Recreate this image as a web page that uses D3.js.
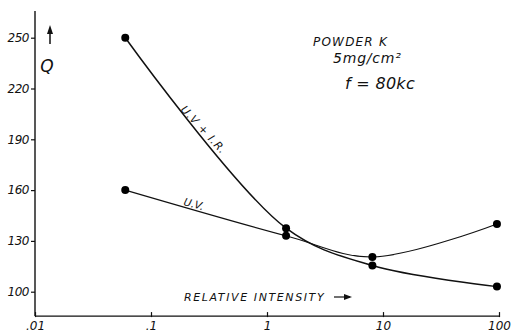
<!DOCTYPE html>
<html><head><meta charset="utf-8">
<script src="https://cdn.jsdelivr.net/npm/d3@7"></script>
<style>body{margin:0;background:#fff}svg{display:block}</style>
</head><body><svg id="c" width="513" height="332"></svg>
<script>
// Data
const xTicks = [0.01, 0.1, 1, 10, 100];
const xTickLabels = [".01", ".1", "1", "10", "100"];
const yTicks = [100, 130, 160, 190, 220, 250];
const intensity = [0.06, 1.46, 8.1, 96];
const uvIr = [250, 137.5, 115.5, 103];
const uv = [160, 133, 120.5, 140];
const notes = ["POWDER K", "5mg/cm²", "f = 80kc"];

const svg = d3.select("#c");
const x = d3.scaleLog().domain([0.01, 100]).range([35, 499]);
const y = d3.scaleLinear().domain([100, 250]).range([291.7, 37.7]);
const yBottom = y(85.6), yTop = y(265.8);
const font = "'DejaVu Sans', sans-serif";

// axes lines
svg.append("line").attr("x1", x(0.01)).attr("x2", x(0.01)).attr("y1", yTop).attr("y2", yBottom)
  .attr("stroke", "#111").attr("stroke-width", 1.4);
svg.append("line").attr("x1", x(0.01)).attr("x2", x(100) + 1).attr("y1", yBottom).attr("y2", yBottom)
  .attr("stroke", "#111").attr("stroke-width", 1.4);

// y ticks
const yAxis = d3.axisLeft(y).tickValues(yTicks).tickSize(4).tickFormat(d3.format("d"));
const gy = svg.append("g").attr("transform", `translate(${x(0.01)},0)`).call(yAxis);
gy.select(".domain").remove();
gy.selectAll(".tick line").attr("stroke", "#111").attr("stroke-width", 1.2);
gy.selectAll(".tick text").attr("x", -6).attr("font-family", font).attr("font-style", "italic")
  .attr("font-size", 12).attr("fill", "#111").attr("letter-spacing", -0.5);

// x ticks
const xAxis = d3.axisBottom(x).tickValues(xTicks).tickSize(0).tickFormat((d, i) => xTickLabels[i]);
const gx = svg.append("g").attr("transform", `translate(0,${yBottom})`).call(xAxis);
gx.select(".domain").remove();
gx.selectAll(".tick text").attr("y", 5).attr("font-family", font).attr("font-style", "italic")
  .attr("font-size", 12).attr("fill", "#111");
gx.selectAll(".tick").append("line").attr("y1", -4).attr("y2", 1).attr("stroke", "#111").attr("stroke-width", 1.2);

// curves
const line = d3.line().x(d => x(d[0])).y(d => y(d[1])).curve(d3.curveCatmullRom.alpha(0.5));
const s1 = intensity.map((v, i) => [v, uvIr[i]]);
const s2 = intensity.map((v, i) => [v, uv[i]]);
svg.append("path").attr("d", line(s1)).attr("fill", "none").attr("stroke", "#111").attr("stroke-width", 1.5);
svg.append("path").attr("d", line(s2)).attr("fill", "none").attr("stroke", "#111").attr("stroke-width", 1.1);
svg.selectAll("circle.a").data(s1.concat(s2)).join("circle")
  .attr("cx", d => x(d[0])).attr("cy", d => y(d[1])).attr("r", 4).attr("fill", "#000");

// Q label with arrow
svg.append("line").attr("x1", 50).attr("x2", 50).attr("y1", 44).attr("y2", 30).attr("stroke", "#111").attr("stroke-width", 1.5);
svg.append("path").attr("d", "M47,34 L50,25 L53,34 Z").attr("fill", "#111");
svg.append("text").attr("x", 47).attr("y", 72).attr("text-anchor", "middle").attr("font-family", font)
  .attr("font-style", "italic").attr("font-size", 17).attr("fill", "#111").text("Q");

// x label
svg.append("text").attr("x", 184).attr("y", 301).attr("font-family", font).attr("font-style", "italic")
  .attr("font-size", 11).attr("letter-spacing", 1.6).attr("fill", "#111").text("RELATIVE INTENSITY");
svg.append("line").attr("x1", 334).attr("x2", 350).attr("y1", 297).attr("y2", 297).attr("stroke", "#111").attr("stroke-width", 1.2);
svg.append("path").attr("d", "M344,294 L352,297 L344,300 Z").attr("fill", "#111");

// curve labels
svg.append("text").attr("transform", "translate(183,205) rotate(15)").attr("font-family", font)
  .attr("font-style", "italic").attr("font-size", 10.5).attr("fill", "#111").text("U.V.");
svg.append("text").attr("transform", "translate(180,110) rotate(47)").attr("font-family", font)
  .attr("font-style", "italic").attr("font-size", 11).attr("letter-spacing", 0.8).attr("fill", "#111").text("U.V + I.R.");

// notes
const nx = [313, 333, 345], ny = [46, 63, 89], ns = [12, 14, 16], nl = [1.2, 0.8, 0.3];
notes.forEach((t, i) => svg.append("text").attr("x", nx[i]).attr("y", ny[i]).attr("font-family", font)
  .attr("font-style", "italic").attr("font-size", ns[i]).attr("letter-spacing", nl[i]).attr("fill", "#111").text(t));
</script></body></html>
